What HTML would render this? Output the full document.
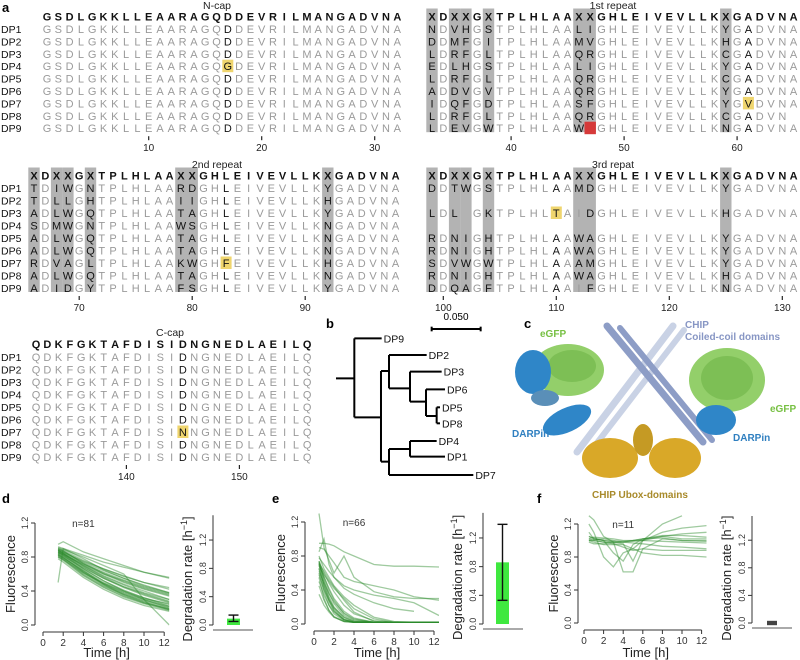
<!DOCTYPE html>
<html><head><meta charset="utf-8">
<style>
html,body{margin:0;padding:0;background:#fff;}
svg{display:block;font-family:"Liberation Sans",Arial,sans-serif;}
</style></head>
<body>
<svg id="fig" width="800" height="660" viewBox="0 0 800 660" xmlns="http://www.w3.org/2000/svg">
  <g id="panelA"></g>
  <g id="panelB"></g>
  <g id="panelC"></g>
  <g id="panelD"></g>
  <g id="panelE"></g>
  <g id="panelF"></g>
</svg>
<script>
// ---------- alignment data ----------
const NCAP = "GSDLGKKLLEAARAGQDDEVRILMANGADVNA";
const REP = "XDXXGXTPLHLAAXXGHLEIVEVLLKXGADVNA";
const CCAP = "QDKFGKTAFDISIDNGNEDLAEILQ";
const rowNames = ["DP1","DP2","DP3","DP4","DP5","DP6","DP7","DP8","DP9"];
const varIdx = [0,2,3,5,13,14,26];
const rep1Var = ["NVHSLIY","DMFIMVH","LRFLQRC","ELHSLIY","LRFLQRC","ADVVQRY","IQFDSFY","LRFLQRC","LEVWW_N"];
const rep2Var = ["TIWNRDY","TLLHIIH","ALWQTAY","SMWNWSN","ALWQTAN","ALWQTAN","RVALKWH","ALWQTAN","AIDYFSY"];
const rep3Var = ["DTWSMDY",null,"LL KIDH",null,"RNIHWAY","RNIHWAY","SVWWAMY","RNIHWAH","DQAFIFN"];

// ---------- time-series data ----------
const dTimes = [1.5,2,4,6,8,10,12.5];
const dSeries = [
 [0.88,0.85,0.70,0.58,0.48,0.40,0.30],[0.85,0.82,0.66,0.52,0.40,0.30,0.20],
 [0.90,0.88,0.76,0.66,0.57,0.50,0.42],[0.80,0.76,0.58,0.44,0.33,0.25,0.17],
 [0.92,0.90,0.82,0.74,0.68,0.62,0.56],[0.86,0.83,0.68,0.55,0.44,0.35,0.26],
 [0.84,0.80,0.62,0.48,0.37,0.29,0.21],[0.88,0.86,0.74,0.64,0.55,0.47,0.38],
 [0.82,0.78,0.60,0.46,0.36,0.28,0.19],[0.95,0.98,0.86,0.78,0.70,0.62,0.55],
 [0.78,0.74,0.56,0.42,0.31,0.23,0.16],[0.87,0.84,0.70,0.57,0.47,0.38,0.30],
 [0.90,0.87,0.72,0.60,0.50,0.42,0.34],[0.83,0.79,0.64,0.50,0.40,0.32,0.24],
 [0.89,0.86,0.75,0.66,0.58,0.50,0.44],[0.81,0.77,0.61,0.49,0.39,0.31,0.25],
 [0.85,0.83,0.71,0.60,0.52,0.44,0.36],[0.50,0.90,0.78,0.65,0.55,0.46,0.38],
 [0.86,0.82,0.64,0.48,0.36,0.27,0.18],[0.91,0.89,0.80,0.70,0.60,0.30,0.00],
 [0.88,0.84,0.66,0.52,0.41,0.32,0.22],[0.84,0.81,0.67,0.55,0.45,0.37,0.28],
 [0.87,0.85,0.72,0.62,0.53,0.45,0.37],[0.83,0.80,0.63,0.49,0.38,0.30,0.22],
 [0.86,0.84,0.69,0.56,0.45,0.36,0.27],[0.82,0.79,0.62,0.47,0.35,0.26,0.18],
 [0.89,0.87,0.73,0.61,0.51,0.43,0.35],[0.80,0.77,0.59,0.45,0.34,0.26,0.19]
];
const eTimes = [0.5,1,1.5,2,3,4,6,8,10,12.5];
const eSeries = [
 [0.72,0.50,0.32,0.20,0.08,0.03,0.02,0.02,0.02,0.02],[0.65,0.42,0.26,0.15,0.05,0.02,0.02,0.02,0.02,0.02],
 [0.70,0.55,0.42,0.30,0.15,0.07,0.02,0.02,0.02,0.02],[0.60,0.38,0.22,0.12,0.04,0.02,0.02,0.02,0.02,0.02],
 [0.74,0.60,0.48,0.38,0.22,0.12,0.04,0.02,0.02,0.02],[0.55,0.30,0.16,0.08,0.03,0.02,0.02,0.02,0.02,0.02],
 [0.68,0.58,0.50,0.42,0.30,0.18,0.06,0.02,0.02,0.02],[0.45,0.28,0.16,0.09,0.03,0.02,0.02,0.02,0.02,0.02],
 [0.73,0.52,0.36,0.24,0.10,0.04,0.02,0.02,0.02,0.02],[0.62,0.48,0.36,0.26,0.13,0.06,0.02,0.02,0.02,0.02],
 [0.80,0.65,0.55,0.45,0.32,0.22,0.08,0.03,0.02,0.02],[0.35,0.22,0.14,0.08,0.03,0.02,0.02,0.02,0.02,0.02],
 [0.66,0.46,0.30,0.18,0.06,0.02,0.02,0.02,0.02,0.02],[0.71,0.62,0.52,0.44,0.28,0.14,0.03,0.02,0.02,0.02],
 [0.70,0.45,0.28,0.16,0.05,0.02,0.02,0.02,0.02,0.02],[0.58,0.40,0.28,0.19,0.08,0.03,0.02,0.02,0.02,0.02],
 [0.74,0.56,0.40,0.28,0.12,0.05,0.02,0.02,0.02,0.02],[0.50,0.34,0.22,0.14,0.05,0.02,0.02,0.02,0.02,0.02],
 [0.95,0.95,0.94,0.92,0.85,0.80,0.70,0.68,0.68,0.67],[0.90,0.88,0.80,0.72,0.55,0.50,0.45,0.40,0.32,0.28],
 [1.30,0.90,0.75,0.60,0.80,0.55,0.38,0.32,0.30,0.30],[0.85,1.00,0.70,0.55,0.42,0.35,0.25,0.18,0.15,null],
 [0.78,0.70,0.62,0.55,0.45,0.40,0.34,0.30,0.25,0.10]
];
const fTimes = [0.5,1,2,3,4,5,6,8,10,12.5];
const fSeries = [
 [1.02,1.00,0.98,0.97,0.98,1.00,1.02,1.03,1.00,0.99],[1.20,1.10,0.80,0.68,0.85,0.90,1.00,1.10,1.15,1.18],
 [1.00,1.00,0.98,0.96,0.92,0.88,0.90,0.88,0.88,0.88],[1.05,1.02,1.00,0.98,0.62,0.62,0.90,1.02,1.00,1.00],
 [1.30,1.25,1.05,0.98,0.96,0.75,1.00,1.20,1.30,null],[1.00,0.98,0.95,0.95,0.95,0.90,0.85,0.82,0.82,0.80],
 [1.02,1.04,1.03,1.02,1.00,1.00,1.00,1.05,1.02,1.02],[0.98,0.96,0.96,0.98,0.98,0.97,0.96,0.93,0.92,0.90],
 [1.10,1.02,1.00,0.99,0.99,1.00,1.02,1.06,1.06,1.04],[1.00,1.01,1.02,1.00,0.98,0.99,1.00,0.99,0.98,0.97],
 [1.05,1.03,1.00,0.85,0.75,0.95,1.02,1.05,1.08,1.10]
];
const rateValues = [0.09, 0.86, 0.0];
const rateLow = [0.05, 0.33, -0.01];
const rateHigh = [0.14, 1.39, 0.01];
const nLabels = ["n=81","n=66","n=11"];
const xTicks = [0,2,4,6,8,10,12];
const yTicks = [0,0.4,0.8,1.2];

const NS = "http://www.w3.org/2000/svg";
function mk(parent, tag, attrs, txt){
  const el = document.createElementNS(NS, tag);
  for (const k in attrs) el.setAttribute(k, attrs[k]);
  if (txt !== undefined) el.textContent = txt;
  parent.appendChild(el);
  return el;
}

// ---------- panel a ----------
const A = document.getElementById('panelA');
const SP = 11.3;
const GRAY = "#9a9a9a", BLACK = "#111";

function drawBlock(opt){
  const {seq, x0, yHead, yRow0, dy, vars, blackIdx, subs, boxIdx, startNum, ticks, label, labelX, labelY} = opt;
  boxIdx.forEach(i=>{
    const r = mk(A,'rect',{x:x0+i*SP-5.7,y:yHead-8,width:11.4,height:yRow0+8*dy-yHead+12,fill:"#b3b3b3"});
    
    
  });
  const t = mk(A,'text',{x:labelX,y:labelY,'font-size':10.5,'text-anchor':'middle',fill:'#222'},label);
  
  
  for (let i=0;i<seq.length;i++){
    const h = mk(A,'text',{x:x0+i*SP,y:yHead+4,'font-size':11,'font-weight':'bold','text-anchor':'middle',fill:BLACK},seq[i]);
    
    
  }
  for (let r=0;r<9;r++){
    const y = yRow0 + r*dy;
    const v = vars ? vars[r] : "";
    if (vars && v === null) continue;
    for (let i=0;i<seq.length;i++){
      if (opt.trunc && opt.trunc[0]===r && i>=opt.trunc[1]) continue;
      let ch = seq[i], col = GRAY;
      const vi = varIdx.indexOf(i);
      if (vars && vi>=0){ ch = v[vi]; col = BLACK; if (ch===' ') continue;
        if (ch==='_'){ const rr=mk(A,'rect',{x:x0+i*SP-5.7,y:y-6.5,width:11.4,height:12.5,fill:"#d63a3a"});
          
          
          continue; } }
      if (blackIdx.indexOf(i)>=0) col = BLACK;
      if (opt.grayOver) opt.grayOver.forEach(g=>{ if(g[0]===r&&g[1]===i) col=GRAY; });
      const s = subs.find(q=>q[0]===r && q[1]===i);
      if (s){ ch = s[2]; col = BLACK;
        const hb = mk(A,'rect',{x:x0+i*SP-5.5,y:y-6.5,width:11,height:12.5,fill:"#efd56e"});
        
        
      }
      const tt = mk(A,'text',{x:x0+i*SP,y:y+4,'font-size':11,'text-anchor':'middle',fill:col},ch);
      
      
    }
  }
  ticks.forEach(n=>{
    const x = x0 + (n-startNum)*SP;
    const yl = yRow0 + 8*dy + 8;
    mk(A,'line',{x1:x,x2:x,y1:yl,y2:yl+4,stroke:'#222','stroke-width':1.2});
    const tl = mk(A,'text',{x:x,y:yl+15,'font-size':10,'text-anchor':'middle',fill:'#222'},String(n));
    
    
  });
}
function rowLabels(yRow0, dy){
  rowNames.forEach((n,r)=>{
    const t = mk(A,'text',{x:1,y:yRow0+r*dy+4,'font-size':10.5,fill:'#111'},n);
    
    
  });
}
const la = mk(A,'text',{x:2,y:12,'font-size':13,'font-weight':'bold'},"a");



drawBlock({seq:NCAP,x0:47,yHead:16.5,yRow0:29,dy:12.4,vars:null,blackIdx:[16],subs:[[3,16,'G']],boxIdx:[],startNum:1,ticks:[10,20,30],label:"N-cap",labelX:217,labelY:9});
drawBlock({seq:REP,x0:432,yHead:16.5,yRow0:29,dy:12.4,vars:rep1Var,blackIdx:[28],subs:[[6,28,'V']],boxIdx:[0,2,3,5,13,14,26],startNum:33,ticks:[40,50,60],label:"1st repeat",labelX:613,labelY:9,trunc:[7,32]});
rowLabels(29,12.4);
drawBlock({seq:REP,x0:34,yHead:175.5,yRow0:188,dy:12.5,vars:rep2Var,blackIdx:[17],subs:[[6,17,'F']],boxIdx:[0,2,3,5,13,14,26],startNum:66,ticks:[70,80,90],label:"2nd repeat",labelX:217,labelY:168});
drawBlock({seq:REP,x0:432,yHead:175.5,yRow0:188,dy:12.5,vars:rep3Var,blackIdx:[11],subs:[[2,11,'T']],boxIdx:[0,2,3,5,13,14,26],startNum:99,ticks:[100,110,120,130],label:"3rd repat",labelX:613,labelY:168,grayOver:[[2,13],[8,13],[2,4]]});
rowLabels(188,12.5);
drawBlock({seq:CCAP,x0:36,yHead:344,yRow0:357,dy:12.5,vars:null,blackIdx:[13],subs:[[6,13,'N']],boxIdx:[],startNum:132,ticks:[140,150],label:"C-cap",labelX:170,labelY:336});
rowLabels(357,12.5);

// ---------- panel b tree ----------
const B = document.getElementById('panelB');
const lb = mk(B,'text',{x:326,y:328,'font-size':13,'font-weight':'bold'},"b");


const tg = mk(B,'g',{transform:'translate(310,310) scale(0.3333)',stroke:'#000','stroke-width':6,fill:'none'});
const treeSegs = [
 [78,205,133,205],[133,85,133,322],[133,85,215,85],[133,322,213,322],
 [213,183,213,455],[213,183,237,183],[237,135,237,235],[237,135,350,135],
 [237,235,300,235],[300,185,300,275],[300,185,395,185],[300,275,348,275],
 [348,238,348,318],[348,238,405,238],[348,318,380,318],[380,292,380,340],
 [380,292,390,292],[380,340,390,340],[213,455,237,455],[237,417,237,495],
 [237,417,300,417],[300,393,300,440],[300,393,380,393],[300,440,405,440],[237,495,490,495],
 [365,57,512,57],[365,50,365,64],[512,50,512,64]
];
treeSegs.forEach(s=>{ const l=mk(tg,'line',{x1:s[0],y1:s[1],x2:s[2],y2:s[3]});
    });
[["DP9",218,85],["DP2",353,135],["DP3",398,185],["DP6",408,238],["DP5",393,292],["DP8",393,340],["DP4",383,393],["DP1",408,440],["DP7",493,495]].forEach(d=>{
  const t = mk(B,'text',{x:310+d[1]/3+1,y:310+d[2]/3+4,'font-size':10.5,fill:'#111'},d[0]);
   
});
const sb = mk(B,'text',{x:456,y:320,'font-size':10,'text-anchor':'middle'},"0.050");
 

// ---------- panel c structure ----------
const C = document.getElementById('panelC');
const lc = mk(C,'text',{x:524,y:328,'font-size':13,'font-weight':'bold'},"c");
 
const cg = mk(C,'g',{});
function helix(x1,y1,x2,y2,col,w){ return mk(cg,'line',{x1:x1,y1:y1,x2:x2,y2:y2,stroke:col,'stroke-width':w,'stroke-linecap':'round'}); }
helix(673,326,577,452,'#c9d2e5',7); helix(684,330,590,452,'#c9d2e5',6);
helix(607,326,703,442,'#8d9dc6',7); helix(620,328,712,440,'#8d9dc6',6);
mk(cg,'ellipse',{cx:568,cy:370,rx:36,ry:26,fill:'#93cf6a'});
mk(cg,'ellipse',{cx:572,cy:366,rx:24,ry:16,fill:'#7dbf55'});
mk(cg,'ellipse',{cx:533,cy:372,rx:18,ry:22,fill:'#2f86c8'});
mk(cg,'ellipse',{cx:567,cy:420,rx:26,ry:12,fill:'#2f86c8',transform:'rotate(-25 567 420)'});
mk(cg,'ellipse',{cx:545,cy:398,rx:14,ry:8,fill:'#5a8fb8'});
mk(cg,'ellipse',{cx:727,cy:380,rx:38,ry:32,fill:'#93cf6a'});
mk(cg,'ellipse',{cx:727,cy:378,rx:26,ry:22,fill:'#7dbf55'});
mk(cg,'ellipse',{cx:716,cy:420,rx:20,ry:15,fill:'#2f86c8'});
mk(cg,'ellipse',{cx:610,cy:458,rx:28,ry:20,fill:'#d9a828'});
mk(cg,'ellipse',{cx:675,cy:458,rx:26,ry:20,fill:'#d9a828'});
mk(cg,'ellipse',{cx:643,cy:440,rx:10,ry:16,fill:'#c59a24'});


[["eGFP",540,337,'#77c043'],["CHIP",685,328,'#8796c4'],["Coiled-coil domains",685,340,'#8796c4'],["eGFP",770,412,'#77c043'],["DARPin",512,437,'#2f7fc0'],["DARPin",733,441,'#2f7fc0'],["CHIP Ubox-domains",592,498,'#a88a2a']].forEach(d=>{
  const t = mk(C,'text',{x:d[1],y:d[2],'font-size':10,'font-weight':'bold',fill:d[3]},d[0]);
   
});

// ---------- panels d/e/f ----------
function panel(g, cfg, times, series, idx){
  const X = t => cfg.x0 + t*cfg.pxh;
  const Y = v => cfg.y0 - v*cfg.pxu;
  const BY = v => cfg.y0 - v*cfg.bpxu;
  const l = mk(g,'text',{x:cfg.lx,y:503,'font-size':13,'font-weight':'bold'},cfg.letter);
   
  const cid = 'clip'+cfg.letter;
  const cp = mk(g,'clipPath',{id:cid});
  mk(cp,'rect',{x:cfg.yax+1,y:Y(1.32),width:X(12.5)-cfg.yax-1,height:Y(-0.05)-Y(1.32)});
  const sg = mk(g,'g',{'clip-path':'url(#'+cid+')'});
  series.forEach(s=>{
    let d="";
    s.forEach((v,i)=>{ if(v===null) return; d += (d?"L":"M")+X(times[i]).toFixed(1)+","+Y(v).toFixed(1); });
    const p = mk(sg,'path',{d:d,fill:'none',stroke:'#2a8a2a','stroke-opacity':0.45,'stroke-width':1.3});
    
    
  });
  mk(g,'line',{x1:cfg.yax,x2:cfg.yax,y1:Y(0),y2:Y(1.2),stroke:'#333'});
  yTicks.forEach(v=>{
    mk(g,'line',{x1:cfg.yax-4,x2:cfg.yax,y1:Y(v),y2:Y(v),stroke:'#333'});
    const t = mk(g,'text',{x:cfg.yax-7,y:Y(v),'font-size':9,'text-anchor':'middle',fill:'#333',transform:`rotate(-90 ${cfg.yax-7} ${Y(v)})`},v.toFixed(1));
     
  });
  const xa = cfg.y0+7;
  mk(g,'line',{x1:X(0),x2:X(12),y1:xa,y2:xa,stroke:'#333'});
  xTicks.forEach(v=>{
    mk(g,'line',{x1:X(v),x2:X(v),y1:xa,y2:xa+4,stroke:'#333'});
    const t = mk(g,'text',{x:X(v),y:xa+14,'font-size':10,'text-anchor':'middle',fill:'#333'},String(v));
     
  });
  const xt = mk(g,'text',{x:X(6.3),y:657,'font-size':13,'text-anchor':'middle',fill:'#222'},"Time [h]");
   
  const yt = mk(g,'text',{x:cfg.yax-20,y:Y(0.6),'font-size':13,'text-anchor':'middle',fill:'#222',transform:`rotate(-90 ${cfg.yax-20} ${Y(0.6)})`},"Fluorescence");
   
  const nt = mk(g,'text',{x:X(4),y:Y(1.2)+4,'font-size':10,'text-anchor':'middle',fill:'#333'},nLabels[idx]);
   
  mk(g,'line',{x1:cfg.bax,x2:cfg.bax,y1:BY(0),y2:BY(1.55),stroke:'#333'});
  yTicks.forEach(v=>{
    mk(g,'line',{x1:cfg.bax-4,x2:cfg.bax,y1:BY(v),y2:BY(v),stroke:'#333'});
    const t = mk(g,'text',{x:cfg.bax-7,y:BY(v),'font-size':9,'text-anchor':'middle',fill:'#333',transform:`rotate(-90 ${cfg.bax-7} ${BY(v)})`},v.toFixed(1));
     
  });
  mk(g,'line',{x1:cfg.bax,x2:cfg.bax+40,y1:cfg.y0+5,y2:cfg.y0+5,stroke:'#777','stroke-width':1.2});
  const rt = mk(g,'text',{x:cfg.bax-21,y:BY(0.65),'font-size':13,'text-anchor':'middle',fill:'#222',transform:`rotate(-90 ${cfg.bax-21} ${BY(0.65)})`});
   
  rt.textContent = "Degradation rate [h";
  mk(rt,'tspan',{'baseline-shift':'super','font-size':9},"−1");
  mk(rt,'tspan',{},"]");
  const val = rateValues[idx];
  const bar = mk(g,'rect',{x:cfg.bx,y:Math.min(BY(val),BY(0)),width:cfg.bw,height:Math.max(Math.abs(BY(0)-BY(val)),1),fill:'#3fe83f'});
   
  const cx = cfg.bx+cfg.bw/2;
  const eg = mk(g,'g',{stroke:idx===2?'#444':'#111','stroke-width':idx===2?3:1.4});
   
  mk(eg,'line',{x1:cx,x2:cx,y1:BY(rateLow[idx]),y2:BY(rateHigh[idx])});
  mk(eg,'line',{x1:cx-5,x2:cx+5,y1:BY(rateLow[idx]),y2:BY(rateLow[idx])});
  mk(eg,'line',{x1:cx-5,x2:cx+5,y1:BY(rateHigh[idx]),y2:BY(rateHigh[idx])});
}
panel(document.getElementById('panelD'),{letter:'d',lx:2,yax:35,x0:43,pxh:10.1,y0:625,pxu:85,bax:213,bx:227,bw:13,bpxu:70.8},dTimes,dSeries,0);
panel(document.getElementById('panelE'),{letter:'e',lx:272,yax:305,x0:314,pxh:10.0,y0:624,pxu:85,bax:483,bx:496,bw:13,bpxu:71.7},eTimes,eSeries,1);
panel(document.getElementById('panelF'),{letter:'f',lx:537,yax:578,x0:584,pxh:9.8,y0:623,pxu:82.5,bax:752,bx:767,bw:10,bpxu:69},fTimes,fSeries,2);
</script>
</body></html>
